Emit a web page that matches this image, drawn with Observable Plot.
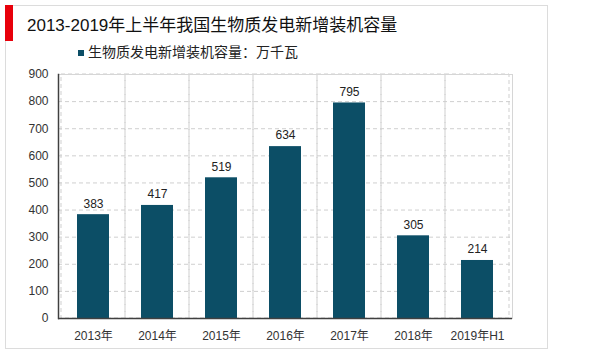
<!DOCTYPE html>
<html><head><meta charset="utf-8">
<script src="https://cdn.jsdelivr.net/npm/d3@7"></script>
<script src="https://cdn.jsdelivr.net/npm/@observablehq/plot@0.6"></script>
<style>
body{margin:0;background:#fff;font-family:"Liberation Sans","Noto Sans CJK SC",sans-serif;}
#wrap{position:relative;width:600px;height:354px;overflow:hidden;}
#frame{position:absolute;left:5px;top:5px;width:543px;height:344px;border:1px solid #dcdcdc;box-sizing:border-box;}
#redbar{position:absolute;left:5px;top:5px;width:8px;height:36px;background:#e8000b;}
#title{position:absolute;left:27px;top:16px;font-size:17px;color:#111;white-space:nowrap;line-height:20px;}
#legend{position:absolute;left:78px;top:43px;font-size:14px;color:#222;white-space:nowrap;line-height:18px;}
#legend span.sw{display:inline-block;width:6px;height:6px;background:#0c4e66;margin-right:4px;vertical-align:1px;}
#chart{position:absolute;left:0;top:0;}
</style></head>
<body>
<div id="wrap">
  <div id="frame"></div>
  <div id="redbar"></div>
  <div id="title"></div>
  <div id="legend"></div>
  <div id="chart"></div>
</div>
<script>
const titleText = "2013-2019年上半年我国生物质发电新增装机容量";
const seriesName = "生物质发电新增装机容量：万千瓦";
const categories = ["2013年","2014年","2015年","2016年","2017年","2018年","2019年H1"];
const values = [383, 417, 519, 634, 795, 305, 214];
const yTicks = [0,100,200,300,400,500,600,700,800,900];

document.getElementById("title").textContent = titleText;
document.getElementById("legend").innerHTML = '<span class="sw"></span>' + seriesName;

const data = categories.map((c, i) => ({cat: c, value: values[i]}));
const barColor = "#0c4e66";

const plot = Plot.plot({
  width: 600,
  height: 354,
  marginLeft: 58,
  marginRight: 88,
  marginTop: 74,
  marginBottom: 36,
  style: {fontFamily: '"Liberation Sans","Noto Sans CJK SC",sans-serif', fontSize: "12px", color: "#333", background: "transparent"},
  x: {domain: categories, padding: 0, label: null},
  y: {domain: [0, 900], label: null},
  marks: [
    Plot.ruleY(yTicks.filter(d => d > 0 && d < 900), {stroke: "#cfcfcf", strokeDasharray: "4,3"}),
    Plot.cell(categories, {x: d => d, fill: "none", stroke: "#cfcfcf", strokeDasharray: "4,3"}),
    Plot.ruleY([900], {stroke: "#d6d6d6"}),
    Plot.frame({anchor: "right", stroke: "#d6d6d6"}),
    Plot.barY(data, {x: "cat", y: "value", fill: barColor, insetLeft: 16, insetRight: 16}),
    Plot.text(data, {x: "cat", y: "value", text: d => String(d.value), dy: -11, fontSize: 12, fill: "#222"}),
    Plot.axisY({ticks: yTicks, tickSize: 0, tickPadding: 10, fontSize: 12, fill: "#333"}),
    Plot.axisX({tickSize: 0, tickPadding: 13, fontSize: 12, fill: "#333"}),
    Plot.frame({anchor: "left", stroke: "#404040", strokeWidth: 1.5}),
    Plot.ruleY([0], {stroke: "#404040", strokeWidth: 1.5})
  ]
});
document.getElementById("chart").appendChild(plot);
</script>
</body></html>
